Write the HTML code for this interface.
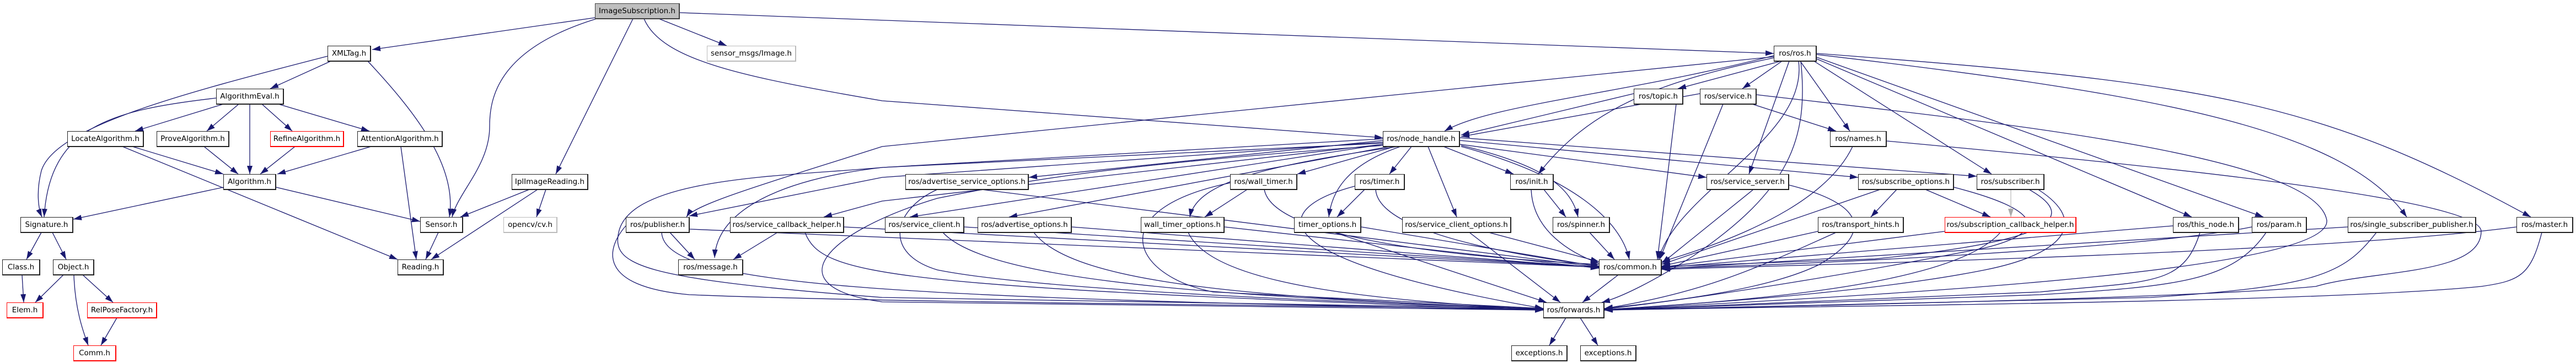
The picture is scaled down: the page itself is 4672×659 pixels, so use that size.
<!DOCTYPE html>
<html><head><meta charset="utf-8"><style>
html,body{margin:0;padding:0;background:#fff;width:4672px;height:659px;overflow:hidden;position:relative}
.n{position:absolute;height:26px;border:1px solid #222;border-right-width:2px;border-bottom-width:2px;background:#fff;box-sizing:content-box;font:13.5px "DejaVu Sans","Liberation Sans",sans-serif;color:#000;text-align:center;line-height:26px;white-space:nowrap;overflow:hidden;z-index:2}
.r{border-color:#f00}
.g{border-color:#bbb}
svg{position:absolute;left:0;top:0;z-index:1}
</style></head><body>
<svg width="4672" height="659" viewBox="0 0 4672 659">
<defs><marker id="a" markerUnits="userSpaceOnUse" markerWidth="16" markerHeight="12" refX="15" refY="5" orient="auto"><path d="M0,0 L15,5 L0,10 z" fill="#191970"/></marker>
<marker id="b" markerUnits="userSpaceOnUse" markerWidth="16" markerHeight="12" refX="15" refY="5" orient="auto"><path d="M0,0 L15,5 L0,10 z" fill="#aaa"/></marker></defs>
<g fill="none" stroke="#191970" stroke-width="1.3" marker-end="url(#a)">
<path d="M1080,32 L675,90"/>
<path d="M1082,34 C900,90 888,180 888,230 C888,300 830,350 820,394"/>
<path d="M1148,34 L1008,316"/>
<path d="M1195,34 L1318,83"/>
<path d="M1233,23 L3217,97"/>
<path d="M1168,34 C1200,110 1350,140 1600,183 L2508,250"/>
<path d="M600,111 L490,161"/>
<path d="M594,102 C330,170 100,230 75,310 C65,350 70,380 76,394"/>
<path d="M667,111 C750,200 830,300 815,394"/>
<path d="M392,178 C200,200 90,230 80,394"/>
<path d="M405,189 L245,238"/>
<path d="M433,189 L375,238"/>
<path d="M475,189 L530,238"/>
<path d="M505,189 L670,238"/>
<path d="M453,189 L453,316"/>
<path d="M240,266 L405,316"/>
<path d="M222,266 L721,471"/>
<path d="M370,266 L432,316"/>
<path d="M535,266 L472,316"/>
<path d="M673,266 L503,316"/>
<path d="M727,266 L755,471"/>
<path d="M405,340 L133,398"/>
<path d="M501,340 L762,402"/>
<path d="M960,344 L835,394"/>
<path d="M975,344 L782,471"/>
<path d="M990,344 L973,394"/>
<path d="M795,422 L772,471"/>
<path d="M75,422 L48,471"/>
<path d="M95,422 L120,471"/>
<path d="M40,499 L43,549"/>
<path d="M115,499 L64,549"/>
<path d="M150,499 L205,549"/>
<path d="M134,499 C136,560 150,600 160,627"/>
<path d="M212,577 L183,627"/>
<!-- ros.h -->
<path d="M3217,101 C2950,170 2700,190 2620,238"/>
<path d="M3230,111 L3043,161"/>
<path d="M3232,111 L3160,161"/>
<path d="M3217,105 C3000,150 2880,200 2790,316"/>
<path d="M3265,111 L3355,238"/>
<path d="M3245,111 L3172,316"/>
<path d="M3290,111 L3612,316"/>
<path d="M3295,107 L3975,394"/>
<path d="M3295,104 L4105,394"/>
<path d="M3295,99 C3900,170 4250,230 4365,394"/>
<path d="M3295,97 C4000,150 4200,180 4590,394"/>
<path d="M3217,103 L1600,266 C1400,330 1260,370 1245,394"/>
<path d="M3262,111 C3280,250 3040,350 3008,471"/>
<path d="M3266,111 C3281,253 3245,346 3072,464 C3000,510 2940,540 2905,549"/>
<!-- node_handle -->
<path d="M2508,255 L1866,322"/>
<path d="M2530,266 L2353,316"/>
<path d="M2560,266 L2520,316"/>
<path d="M2618,266 L2745,316"/>
<path d="M2648,262 L3095,322"/>
<path d="M2648,255 L3370,322"/>
<path d="M2648,250 L3585,320"/>
<path d="M2650,264 C2800,300 2850,340 2862,394"/>
<path d="M2650,266 C2850,320 2940,400 2955,471"/>
<path d="M2508,262 L1650,394"/>
<path d="M2520,266 L1830,394"/>
<path d="M2535,266 C2300,300 2170,330 2158,394"/>
<path d="M2540,266 C2440,300 2415,350 2410,394"/>
<path d="M2590,266 L2642,394"/>
<path d="M2508,258 L1600,322 L1250,392"/>
<path d="M2508,252 L1600,304 C1420,325 1300,380 1296,468"/>
<path d="M2508,262 L1600,365 L1494,394"/>
<path d="M2508,260 L1600,304 C1430,320 1143,320 1122,422 C1110,480 1153,506 1600,540 L2799,560"/>
<path d="M2510,264 C2000,300 1850,330 1700,360 C1500,420 1400,520 1600,548 L2799,563"/>
<!-- topic, service -->
<path d="M2963,170 L2650,245"/>
<path d="M3040,189 L3006,471"/>
<path d="M3083,170 L2650,248"/>
<path d="M3178,189 L3330,238"/>
<path d="M3125,189 L3010,471"/>
<path d="M3186,172 C3600,220 4200,280 4220,400 C4230,500 3300,540 2910,563"/>
<path d="M3360,266 C3320,350 3200,420 3014,475"/>
<path d="M3422,256 C3900,300 4500,360 4500,420 C4500,500 4300,490 4200,520 C4000,540 3300,555 2910,563"/>
<!-- mid -->
<path d="M1780,344 L2900,485"/>
<path d="M1700,344 C1620,380 1600,460 1700,490 C1900,530 2500,550 2799,561"/>
<path d="M2262,344 L2185,394"/>
<path d="M2293,344 C2310,440 2700,470 2900,480"/>
<path d="M2231,332 C2000,380 2050,500 2200,530 L2799,560"/>
<path d="M2475,344 L2425,394"/>
<path d="M2495,344 C2500,430 2800,470 2900,483"/>
<path d="M2457,338 C2300,380 2280,470 2799,560"/>
<path d="M2777,344 C2780,420 2850,460 2900,478"/>
<path d="M2800,344 L2840,394"/>
<path d="M3180,344 L3014,478"/>
<path d="M3245,336 C3380,370 3400,420 3300,480 C3200,530 3000,550 2910,560"/>
<path d="M3440,344 L3393,394"/>
<path d="M3492,344 L3610,394"/>
<path d="M3410,344 L3014,480"/>
<path d="M3544,340 C3700,380 3720,420 3600,450 C3400,490 3100,540 2910,561"/>
<path d="M3680,344 C3780,400 3700,440 3400,470 L3014,484"/>
<path d="M3690,340 C3790,400 3750,460 3600,490 C3400,530 3100,550 2910,562"/>
<path d="M3297,420 L3014,483"/>
<path d="M3330,422 C3200,480 3100,530 2910,560"/>
<path d="M3527,420 L3014,485"/>
<path d="M3628,422 C3560,500 3300,540 2910,562"/>
<path d="M3941,410 L3014,486"/>
<path d="M3990,422 C3960,520 3900,510 3700,530 L2910,563"/>
<path d="M4084,412 C3900,450 3300,480 3014,487"/>
<path d="M4110,422 C4050,510 3950,520 3700,535 L2910,563"/>
<path d="M4258,412 L3014,488"/>
<path d="M4310,422 C4250,500 4200,520 3900,540 L2910,563"/>
<path d="M4564,412 C4200,460 3300,480 3014,489"/>
<path d="M4610,422 C4590,500 4570,510 4500,520 C4200,550 3300,555 2910,563"/>
<path d="M1749,412 L2900,485"/>
<path d="M1710,422 C1800,520 2300,540 2799,561"/>
<path d="M1944,412 L2900,486"/>
<path d="M1875,422 C1950,520 2300,540 2799,562"/>
<path d="M2221,412 L2900,487"/>
<path d="M2155,422 C2200,520 2500,545 2799,562"/>
<path d="M2469,412 L2900,484"/>
<path d="M2420,422 L2805,549"/>
<path d="M2700,422 L2900,475"/>
<path d="M2665,422 L2830,549"/>
<path d="M2883,422 L2928,471"/>
<path d="M1215,422 L1260,471"/>
<path d="M1251,416 L2900,485"/>
<path d="M1200,422 C1205,520 1600,540 2799,563"/>
<path d="M1410,422 L1330,471"/>
<path d="M1531,412 L2900,485"/>
<path d="M1460,422 C1490,500 1600,520 2799,563"/>
<path d="M1135,410 C1100,450 1080,520 1250,535 C1600,550 2500,555 2799,562"/>
<path d="M2935,499 L2870,549"/>
<path d="M2840,577 L2810,627"/>
<path d="M2866,577 L2898,627"/>
</g>
<path d="M3647,344 L3647,394" stroke="#aaa" stroke-width="1" fill="none" marker-end="url(#b)"/>
</svg>
<div class="n" style="left:1079px;top:6px;width:151px;background:#bfbfbf;border-color:#404040">ImageSubscription.h</div>
<div class="n" style="left:594px;top:83px;width:76px">XMLTag.h</div>
<div class="n g" style="left:1282px;top:83px;width:159px">sensor_msgs/Image.h</div>
<div class="n" style="left:392px;top:161px;width:120px">AlgorithmEval.h</div>
<div class="n" style="left:122px;top:238px;width:136px">LocateAlgorithm.h</div>
<div class="n" style="left:284px;top:238px;width:129px">ProveAlgorithm.h</div>
<div class="n r" style="left:490px;top:238px;width:131px">RefineAlgorithm.h</div>
<div class="n" style="left:648px;top:238px;width:152px">AttentionAlgorithm.h</div>
<div class="n" style="left:405px;top:316px;width:93px">Algorithm.h</div>
<div class="n" style="left:928px;top:316px;width:136px">IplImageReading.h</div>
<div class="n" style="left:37px;top:394px;width:93px">Signature.h</div>
<div class="n" style="left:762px;top:394px;width:75px">Sensor.h</div>
<div class="n g" style="left:913px;top:394px;width:95px">opencv/cv.h</div>
<div class="n" style="left:1135px;top:394px;width:113px">ros/publisher.h</div>
<div class="n" style="left:1324px;top:394px;width:204px">ros/service_callback_helper.h</div>
<div class="n" style="left:4px;top:471px;width:66px">Class.h</div>
<div class="n" style="left:96px;top:471px;width:72px">Object.h</div>
<div class="n" style="left:721px;top:471px;width:81px">Reading.h</div>
<div class="n" style="left:1230px;top:471px;width:115px">ros/message.h</div>
<div class="n r" style="left:12px;top:549px;width:64px">Elem.h</div>
<div class="n r" style="left:158px;top:549px;width:124px">RelPoseFactory.h</div>
<div class="n r" style="left:133px;top:627px;width:75px">Comm.h</div>
<div class="n" style="left:2963px;top:161px;width:87px">ros/topic.h</div>
<div class="n" style="left:3083px;top:161px;width:100px">ros/service.h</div>
<div class="n" style="left:2508px;top:238px;width:137px">ros/node_handle.h</div>
<div class="n" style="left:1642px;top:316px;width:221px">ros/advertise_service_options.h</div>
<div class="n" style="left:2231px;top:316px;width:119px">ros/wall_timer.h</div>
<div class="n" style="left:2457px;top:316px;width:88px">ros/timer.h</div>
<div class="n" style="left:2739px;top:316px;width:76px">ros/init.h</div>
<div class="n" style="left:3095px;top:316px;width:147px">ros/service_server.h</div>
<div class="n" style="left:1605px;top:394px;width:141px">ros/service_client.h</div>
<div class="n" style="left:1773px;top:394px;width:168px">ros/advertise_options.h</div>
<div class="n" style="left:2069px;top:394px;width:149px">wall_timer_options.h</div>
<div class="n" style="left:2347px;top:394px;width:119px">timer_options.h</div>
<div class="n" style="left:2543px;top:394px;width:195px">ros/service_client_options.h</div>
<div class="n" style="left:2816px;top:394px;width:101px">ros/spinner.h</div>
<div class="n" style="left:2900px;top:471px;width:111px">ros/common.h</div>
<div class="n" style="left:2799px;top:549px;width:108px">ros/forwards.h</div>
<div class="n" style="left:2741px;top:627px;width:99px">exceptions.h</div>
<div class="n" style="left:2866px;top:627px;width:99px">exceptions.h</div>
<div class="n" style="left:3217px;top:83px;width:75px">ros/ros.h</div>
<div class="n" style="left:3319px;top:238px;width:100px">ros/names.h</div>
<div class="n" style="left:3370px;top:316px;width:171px">ros/subscribe_options.h</div>
<div class="n" style="left:3585px;top:316px;width:120px">ros/subscriber.h</div>
<div class="n" style="left:3297px;top:394px;width:153px">ros/transport_hints.h</div>
<div class="n r" style="left:3527px;top:394px;width:236px">ros/subscription_callback_helper.h</div>
<div class="n" style="left:3941px;top:394px;width:117px">ros/this_node.h</div>
<div class="n" style="left:4084px;top:394px;width:97px">ros/param.h</div>
<div class="n" style="left:4258px;top:394px;width:230px">ros/single_subscriber_publisher.h</div>
<div class="n" style="left:4564px;top:394px;width:100px">ros/master.h</div>
</body></html>
